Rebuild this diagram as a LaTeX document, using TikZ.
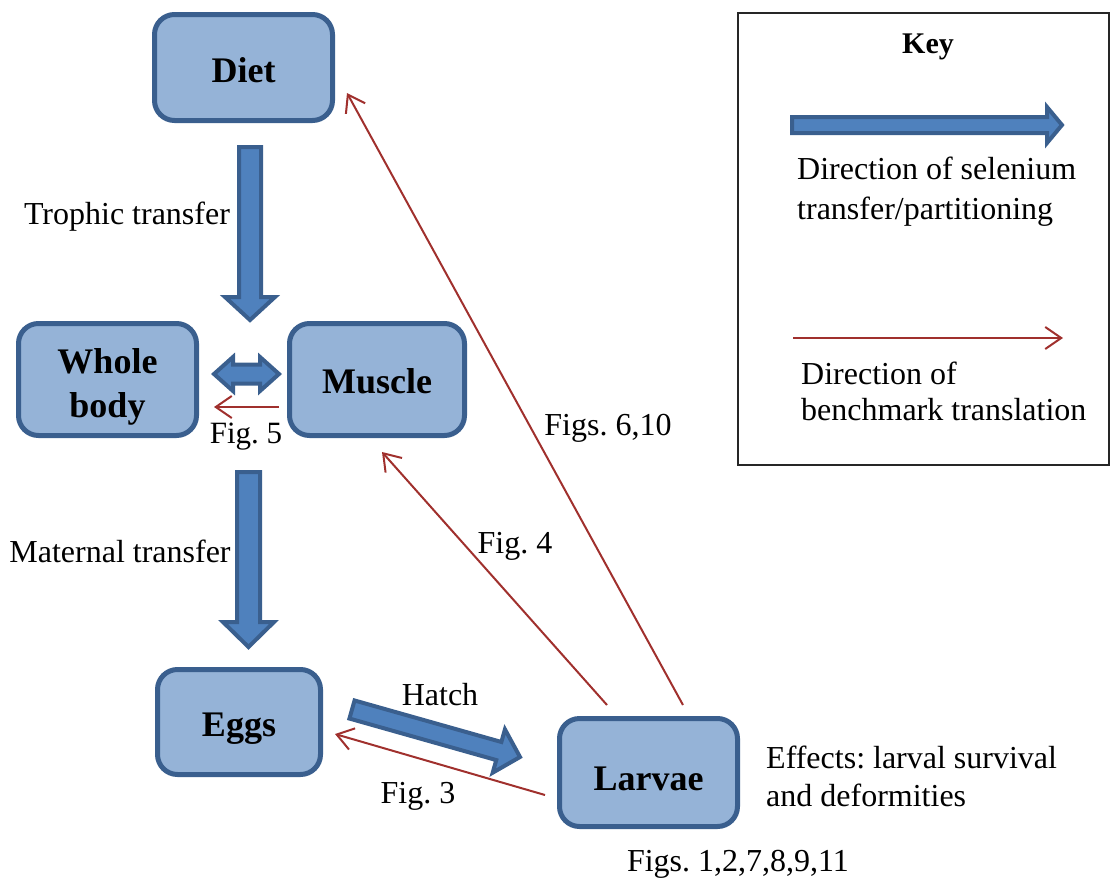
\documentclass[tikz,border=0pt]{standalone}
\usepackage{fontspec}
\setmainfont{Liberation Serif}
\frenchspacing
\usetikzlibrary{calc,arrows.meta}
\definecolor{boxfill}{HTML}{95B3D7}
\definecolor{boxline}{HTML}{3A5F8E}
\definecolor{arrfill}{HTML}{4F81BD}
\definecolor{redline}{HTML}{A0302D}
\tikzset{
  stage/.style={draw=boxline, fill=boxfill, line width=5pt, rounded corners=20pt, inner sep=0pt,
    font=\fontsize{36}{44}\selectfont\bfseries, align=center},
  lbl/.style={inner sep=0pt, text depth=0pt, font=\fontsize{32}{38}\selectfont},
  lblleft/.style={lbl, align=left, anchor=west},
  barrow/.style={draw=boxline, fill=arrfill, line width=4pt, line join=miter},
  bench/.style={draw=redline, line width=2pt, -{Straight Barb[length=16pt,width=22pt]}},
}
% single block arrow: from, to, shaft half width, head half width, head length
\newcommand\blockarrow[5]{%
  \path ($(#2)!#5!(#1)$) coordinate (hb);
  \draw[barrow] ($(#1)!#3!90:(#2)$) -- ($(hb)!#3!90:(#2)$) -- ($(hb)!#4!90:(#2)$) -- (#2)
    -- ($(hb)!#4!-90:(#2)$) -- ($(hb)!#3!-90:(#2)$) -- ($(#1)!#3!-90:(#2)$) -- cycle;}
% double block arrow
\newcommand\dblockarrow[5]{%
  \path ($(#2)!#5!(#1)$) coordinate (hb);
  \path ($(#1)!#5!(#2)$) coordinate (ha);
  \draw[barrow] (#1) -- ($(ha)!#4!90:(#2)$) -- ($(ha)!#3!90:(#2)$) -- ($(hb)!#3!90:(#2)$)
    -- ($(hb)!#4!90:(#2)$) -- (#2) -- ($(hb)!#4!-90:(#2)$) -- ($(hb)!#3!-90:(#2)$)
    -- ($(ha)!#3!-90:(#2)$) -- ($(ha)!#4!-90:(#2)$) -- cycle;}
\begin{document}
\begin{tikzpicture}[x=1pt,y=-1pt]
\useasboundingbox (0,0) rectangle (1112,879);

% stages
\node[stage, minimum width=178pt, minimum height=106pt, text height=29pt, text depth=0pt] (diet) at (243.5,67.5) {Diet};
\node[stage, minimum width=178pt, minimum height=112pt] (whole) at (107.5,379.5) {\rule{0pt}{40pt}Whole\\body};
\node[stage, minimum width=175pt, minimum height=112pt, text height=27pt, text depth=0pt] (muscle) at (377,379.5) {Muscle};
\node[stage, minimum width=163pt, minimum height=105pt, text height=28pt, text depth=0pt] (eggs) at (239,722) {Eggs};
\node[stage, minimum width=178pt, minimum height=108pt, text height=35pt, text depth=0pt] (larvae) at (648.5,772.5) {Larvae};

% block arrows (selenium transfer)
\coordinate (t1) at (250,147);   \coordinate (t2) at (250,320);
\coordinate (m1) at (248.5,472); \coordinate (m2) at (248.5,647);
\coordinate (w1) at (214,374);   \coordinate (w2) at (279,374);
\coordinate (h1) at (352,709.5); \coordinate (h2) at (520,757);
\blockarrow{t1}{t2}{11pt}{25pt}{23pt}
\blockarrow{m1}{m2}{11.5pt}{25.5pt}{25pt}
\dblockarrow{w1}{w2}{9.5pt}{17pt}{19pt}
\blockarrow{h1}{h2}{9.4pt}{22.5pt}{22pt}

% benchmark translation arrows
\coordinate (f5s) at (279,407);  \coordinate (f5e) at (214,407);
\coordinate (f6s) at (683,705);  \coordinate (f6e) at (347,93);
\coordinate (f4s) at (607,705);  \coordinate (f4e) at (382,452);
\coordinate (f3s) at (545,795);  \coordinate (f3e) at (335,734);
\draw[bench] (f5s) -- (f5e);
\draw[bench] (f6s) -- (f6e);
\draw[bench] (f4s) -- (f4e);
\draw[bench] (f3s) -- (f3e);

% labels
\node[lbl] (ltroph) at (127,213) {Trophic transfer};
\node[lbl] (lmat) at (120,551) {Maternal transfer};
\node[lbl, font=\fontsize{31}{36}\selectfont] (lf5) at (246,433) {Fig. 5};
\node[lbl] (lf6) at (608,425) {Figs. 6,10};
\node[lbl] (lf4) at (515,543) {Fig. 4};
\node[lbl] (lhatch) at (440,694) {Hatch};
\node[lbl] (lf3) at (418,793) {Fig. 3};
\node[lblleft] (leff) at (766,776) {Effects: larval survival\\and deformities};
\node[lbl] (lfigs) at (738,861) {Figs. 1,2,7,8,9,11};

% key
\draw[black!85, line width=2pt] (738,13) rectangle (1109,465);
\node[inner sep=0pt, text depth=0pt, font=\fontsize{30}{36}\selectfont\bfseries] (key) at (928,44) {Key};
\coordinate (k1) at (792,125); \coordinate (k2) at (1062,125);
\blockarrow{k1}{k2}{8pt}{18pt}{15pt}
\node[lblleft, font=\fontsize{32}{40}\selectfont] (ksel) at (797,188) {Direction of selenium\\transfer/partitioning};
\coordinate (k3) at (793,338); \coordinate (k4) at (1063,338);
\draw[bench] (k3) -- (k4);
\node[lblleft, font=\fontsize{32}{36}\selectfont] (kben) at (801,391) {Direction of\\benchmark translation};
\end{tikzpicture}
\end{document}
